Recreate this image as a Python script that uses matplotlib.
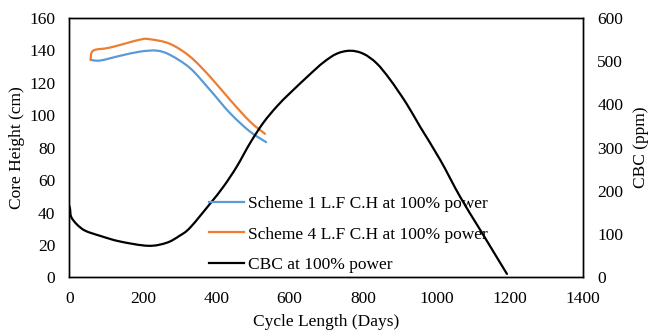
import matplotlib
matplotlib.use('Agg')
import matplotlib.pyplot as plt
from matplotlib.path import Path
from matplotlib.patches import PathPatch
from matplotlib.lines import Line2D

plt.rcParams['font.family'] = ['Liberation Serif', 'DejaVu Serif']
plt.rcParams['font.size'] = 12.5

# scheme 1 loading factor core height (cm)
s1_days = [58, 84, 138, 193, 238, 274, 329, 383, 438, 492, 536]
s1_height = [134.1, 133.7, 136.6, 139.2, 139.8, 137.2, 129, 115.6, 101.2, 89.9, 83.4]

# scheme 4 loading factor core height (cm)
s4_days = [58, 65, 111, 193, 220, 274, 329, 383, 438, 492, 533]
s4_height = [134.1, 139.8, 141.7, 146.6, 146.8, 144, 136.1, 123.8, 109.4, 96.1, 88.5]

# critical boron concentration (ppm)
cbc_days = [0, 2, 5, 20, 43, 84, 138, 215, 265, 300, 329, 383, 420, 456, 492, 528,
            565, 601, 656, 692, 728, 765, 801, 837, 874, 919, 955, 1010, 1064, 1119, 1192]
cbc_ppm = [165, 158, 140, 123, 108, 96, 83, 73, 80, 96, 115, 170, 210, 256, 310, 357,
           395, 426, 470, 497, 517, 524, 517, 495, 457, 401, 349, 272, 187, 110, 8]

labels = ['Scheme 1 L.F C.H at 100% power',
          'Scheme 4 L.F C.H at 100% power',
          'CBC at 100% power']


def smooth_line(ax, xs, ys, color, lw=1.6):
    # excel style smoothed line: cubic bezier through the points
    pts = list(zip(xs, ys))
    n = len(pts)
    verts = [pts[0]]
    codes = [Path.MOVETO]
    for i in range(n - 1):
        p0 = pts[i - 1] if i > 0 else pts[i]
        p1 = pts[i]
        p2 = pts[i + 1]
        p3 = pts[i + 2] if i + 2 < n else pts[i + 1]
        c1 = (p1[0] + (p2[0] - p0[0]) / 6, p1[1] + (p2[1] - p0[1]) / 6)
        c2 = (p2[0] - (p3[0] - p1[0]) / 6, p2[1] - (p3[1] - p1[1]) / 6)
        verts += [c1, c2, p2]
        codes += [Path.CURVE4] * 3
    ax.add_patch(PathPatch(Path(verts, codes), fill=False, edgecolor=color,
                           lw=lw, capstyle='round', joinstyle='round'))
    return Line2D([], [], color=color, lw=lw)


def plot_chart():
    fig = plt.figure(figsize=(6.51, 3.31), dpi=100)
    ax = fig.add_axes([0.1065, 0.162, 0.7895, 0.784])
    ax2 = ax.twinx()

    h1 = smooth_line(ax, s1_days, s1_height, '#5B9BD5')
    h2 = smooth_line(ax, s4_days, s4_height, '#ED7D31')
    h3 = smooth_line(ax2, cbc_days, cbc_ppm, 'black')

    ax.set_xlim(0, 1400)
    ax.set_ylim(0, 160)
    ax2.set_ylim(0, 600)
    ax.set_xticks(range(0, 1401, 200))
    ax.set_yticks(range(0, 161, 20))
    ax2.set_yticks(range(0, 601, 100))

    ax.tick_params(axis='both', length=0, pad=10)
    ax2.tick_params(axis='y', length=0, pad=10)
    for a in (ax, ax2):
        for s in a.spines.values():
            s.set_linewidth(1.0)
            s.set_color('black')

    ax.set_xlabel('Cycle Length (Days)', labelpad=4.5)
    ax.set_ylabel('Core Height (cm)', labelpad=3)
    ax2.set_ylabel('CBC (ppm)', labelpad=7)

    ax2.legend([h1, h2, h3], labels, loc='lower left',
               bbox_to_anchor=(0.242, -0.045), frameon=False,
               handlelength=2.0, handletextpad=0.2, labelspacing=0.85)

    fig.savefig('out.png', dpi=100)


def main():
    plot_chart()


if __name__ == "__main__":
    main()
